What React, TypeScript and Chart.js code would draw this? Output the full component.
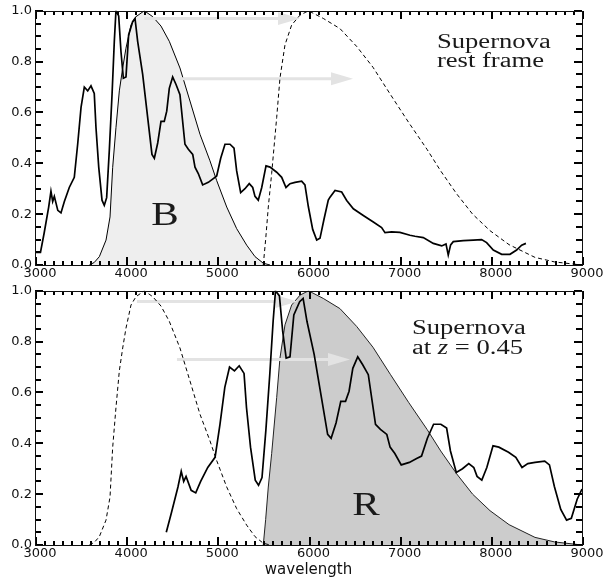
import { useEffect, useRef } from "react";
import { Chart, registerables } from "chart.js";

Chart.register(...registerables);

// ---------- data ----------
// Supernova spectrum, rest frame (wavelength in Å, normalised flux)
const restWave = [
  3000, 3060, 3100, 3150, 3175, 3194, 3212, 3250, 3285, 3322, 3376, 3431, 3468, 3505, 3541, 3578,
  3614, 3650, 3669, 3699, 3735, 3760, 3786, 3815, 3845, 3870, 3888, 3918, 3943, 3969, 3998, 4027,
  4071, 4097, 4126, 4181, 4236, 4283, 4309, 4346, 4382, 4418, 4445, 4473, 4510, 4547, 4590, 4645,
  4682, 4730, 4755, 4791, 4839, 4901, 4956, 4993, 5037, 5084, 5139, 5183, 5212, 5256, 5303, 5350,
  5388, 5413, 5449, 5487, 5534, 5578, 5651, 5706, 5753, 5797, 5852, 5925, 5961, 5998, 6046, 6090,
  6126, 6170, 6217, 6236, 6291, 6364, 6419, 6492, 6601, 6711, 6802, 6839, 6912, 7003, 7113, 7168,
  7259, 7369, 7461, 7508, 7533, 7559, 7588, 7698, 7808, 7899, 7954, 8027, 8119, 8210, 8283, 8338,
  8385,
];
const restFlux = [
  0.05, 0.05, 0.125, 0.228, 0.29, 0.25, 0.27, 0.215, 0.205, 0.25, 0.305, 0.345, 0.475, 0.62, 0.7, 0.685,
  0.705, 0.675, 0.54, 0.385, 0.255, 0.235, 0.265, 0.45, 0.67, 0.88, 1.0, 0.98, 0.84, 0.735, 0.74, 0.905,
  0.957, 0.97, 0.88, 0.75, 0.58, 0.435, 0.42, 0.48, 0.565, 0.565, 0.605, 0.695, 0.74, 0.71, 0.67, 0.475,
  0.455, 0.435, 0.385, 0.36, 0.315, 0.325, 0.34, 0.35, 0.42, 0.475, 0.475, 0.46, 0.37, 0.285, 0.3, 0.32,
  0.305, 0.27, 0.255, 0.305, 0.39, 0.385, 0.365, 0.345, 0.305, 0.32, 0.325, 0.33, 0.315, 0.23, 0.14, 0.098,
  0.105, 0.18, 0.255, 0.267, 0.293, 0.287, 0.254, 0.221, 0.195, 0.169, 0.147, 0.127, 0.13, 0.128, 0.117, 0.113,
  0.108, 0.085, 0.075, 0.083, 0.039, 0.079, 0.092, 0.096, 0.098, 0.1, 0.088, 0.059, 0.042, 0.042, 0.059, 0.078,
  0.085,
];

// Same supernova observed at z = 0.45
const shiftedWave = [
  4440, 4495, 4568, 4604, 4631, 4657, 4713, 4763, 4817, 4895, 4975, 5029, 5082, 5134, 5188, 5240,
  5293, 5320, 5364, 5416, 5452, 5490, 5532, 5575, 5612, 5638, 5681, 5717, 5755, 5797, 5839, 5903,
  5941, 5983, 6062, 6142, 6210, 6248, 6302, 6354, 6406, 6445, 6486, 6540, 6593, 6656, 6735, 6789,
  6859, 6895, 6947, 7017, 7106, 7186, 7240, 7304, 7372, 7452, 7515, 7557, 7621, 7689, 7758, 7813,
  7849, 7901, 7956, 8024, 8088, 8194, 8274, 8342, 8406, 8485, 8591, 8643, 8697, 8767, 8831, 8883,
  8947, 9000,
];
const shiftedFlux = [
  0.05, 0.125, 0.228, 0.29, 0.25, 0.27, 0.215, 0.205, 0.25, 0.305, 0.345, 0.475, 0.62, 0.7, 0.685, 0.705,
  0.675, 0.54, 0.385, 0.255, 0.235, 0.265, 0.45, 0.67, 0.88, 1.0, 0.98, 0.84, 0.735, 0.74, 0.905, 0.957,
  0.97, 0.88, 0.75, 0.58, 0.435, 0.42, 0.48, 0.565, 0.565, 0.605, 0.695, 0.74, 0.71, 0.67, 0.475, 0.455,
  0.435, 0.385, 0.36, 0.315, 0.325, 0.34, 0.35, 0.42, 0.475, 0.475, 0.46, 0.37, 0.285, 0.3, 0.32, 0.305,
  0.27, 0.255, 0.305, 0.39, 0.385, 0.365, 0.345, 0.305, 0.32, 0.325, 0.33, 0.315, 0.23, 0.14, 0.098, 0.105,
  0.18, 0.22,
];

// B filter transmission
const filterBWave = [
  3596, 3650, 3706, 3779, 3823, 3852, 3888, 3925, 3962, 3998, 4053, 4108, 4199, 4291, 4382, 4473,
  4590, 4700, 4810, 4919, 4993, 5103, 5212, 5322, 5413, 5504, 5578,
];
const filterBResp = [
  0, 0.01, 0.033, 0.098, 0.189, 0.384, 0.54, 0.685, 0.775, 0.853, 0.944, 0.977, 1.0, 0.977, 0.94, 0.88,
  0.775, 0.645, 0.514, 0.41, 0.332, 0.228, 0.143, 0.078, 0.033, 0.007, 0,
];

// R filter transmission
const filterRWave = [
  5504, 5530, 5559, 5596, 5651, 5687, 5742, 5815, 5907, 6000, 6162, 6345, 6528, 6707, 6900, 7100,
  7300, 7450, 7625, 7800, 7991, 8200, 8484, 8700, 9000,
];
const filterRResp = [
  0, 0.1, 0.228, 0.36, 0.58, 0.735, 0.866, 0.944, 0.983, 1.0, 0.97, 0.93, 0.86, 0.778, 0.67, 0.56,
  0.455, 0.37, 0.28, 0.2, 0.135, 0.08, 0.03, 0.012, 0,
];

// grey shift arrows: start wavelength, tip wavelength, level
const arrowStartTop = [4200, 4590];
const arrowEndTop = [5907, 6488];
const arrowLevelTop = [0.97, 0.733];
const arrowStartBottom = [4118, 4557];
const arrowEndBottom = [5880, 6455];
const arrowLevelBottom = [0.958, 0.73];

// axis tick values (major labelled, minor unlabelled)
const xMajorTicks = [3000, 4000, 5000, 6000, 7000, 8000, 9000];
const xMinorTicks = [
  3100, 3200, 3300, 3400, 3500, 3600, 3700, 3800, 3900,
  4100, 4200, 4300, 4400, 4500, 4600, 4700, 4800, 4900,
  5100, 5200, 5300, 5400, 5500, 5600, 5700, 5800, 5900,
  6100, 6200, 6300, 6400, 6500, 6600, 6700, 6800, 6900,
  7100, 7200, 7300, 7400, 7500, 7600, 7700, 7800, 7900,
  8100, 8200, 8300, 8400, 8500, 8600, 8700, 8800, 8900,
];
const yMajorTicks = [0, 0.2, 0.4, 0.6, 0.8, 1.0];
const yMinorTicks = [0.05, 0.1, 0.15, 0.25, 0.3, 0.35, 0.45, 0.5, 0.55, 0.65, 0.7, 0.75, 0.85, 0.9, 0.95];

const pts = (xs: number[], ys: number[]) => xs.map((x, i) => ({ x, y: ys[i] }));

type Label = { text: string; italic?: boolean }[];
type Annot = { parts: Label; x: number; y: number; size: number; sx: number; align: "left" | "center" };

function drawAnnot(ctx: CanvasRenderingContext2D, a: Annot, px: number, py: number) {
  ctx.save();
  ctx.fillStyle = "#1a1a1a";
  ctx.textBaseline = "alphabetic";
  ctx.textAlign = "left";
  let total = 0;
  const widths = a.parts.map((p) => {
    ctx.font = `${p.italic ? "italic " : ""}${a.size}px "Liberation Serif", "Times New Roman", serif`;
    const w = ctx.measureText(p.text).width;
    total += w;
    return w;
  });
  ctx.translate(px, py);
  ctx.scale(a.sx, 1);
  let cx = a.align === "center" ? -total / 2 : 0;
  a.parts.forEach((p, i) => {
    ctx.font = `${p.italic ? "italic " : ""}${a.size}px "Liberation Serif", "Times New Roman", serif`;
    ctx.fillText(p.text, cx, 0);
    cx += widths[i];
  });
  ctx.restore();
}

function makePlugin(annots: Annot[], fillIndex: number, aStart: number[], aEnd: number[], aLevel: number[]) {
  return {
    id: "decor",
    afterDatasetDraw(chart: any, args: any) {
      if (args.index !== fillIndex) return;
      const { ctx } = chart;
      const xs = chart.scales.x;
      const ys = chart.scales.y;
      ctx.save();
      const color = "#e3e3e3";
      aStart.forEach((s, i) => {
        const x0 = xs.getPixelForValue(s);
        const x1 = xs.getPixelForValue(aEnd[i]);
        const y = ys.getPixelForValue(aLevel[i]);
        const head = 22;
        const half = 6.5;
        ctx.strokeStyle = color;
        ctx.lineWidth = 3;
        ctx.beginPath();
        ctx.moveTo(x0, y);
        ctx.lineTo(x1 - head + 1, y);
        ctx.stroke();
        ctx.fillStyle = color;
        ctx.beginPath();
        ctx.moveTo(x1, y);
        ctx.lineTo(x1 - head, y - half);
        ctx.lineTo(x1 - head, y + half);
        ctx.closePath();
        ctx.fill();
      });
      ctx.restore();
    },
    afterDraw(chart: any) {
      const ctx: CanvasRenderingContext2D = chart.ctx;
      const area = chart.chartArea;
      const L = Math.round(area.left);
      const R = Math.round(area.right);
      const T = Math.round(area.top);
      const B = Math.round(area.bottom);
      const xs = chart.scales.x;
      const ys = chart.scales.y;
      ctx.save();
      ctx.fillStyle = "#000";
      const xTick = (v: number, len: number) => {
        const px = Math.round(xs.getPixelForValue(v));
        ctx.fillRect(px, B - len, 2, len);
        ctx.fillRect(px, T, 2, len);
      };
      const yTick = (v: number, len: number) => {
        const py = Math.round(ys.getPixelForValue(v));
        ctx.fillRect(L, py - 1, len, 2);
        ctx.fillRect(R - len, py - 1, len, 2);
      };
      xMajorTicks.forEach((v) => xTick(v, 8));
      xMinorTicks.forEach((v) => xTick(v, 4));
      yMajorTicks.forEach((v) => yTick(v, 8));
      yMinorTicks.forEach((v) => yTick(v, 6));
      ctx.fillStyle = "#111";
      ctx.fillRect(L, T, R - L + 1, 1);
      ctx.fillRect(L, B, R - L + 1, 1);
      ctx.fillRect(L, T, 1, B - T + 1);
      ctx.fillRect(R, T, 1, B - T + 1);
      ctx.restore();
      annots.forEach((a) => drawAnnot(ctx, a, xs.getPixelForValue(a.x), ys.getPixelForValue(a.y)));
    },
  };
}

const tickFont = { family: '"DejaVu Sans", sans-serif', size: 13 };

function makeOptions(padTop: number, xHeight: number, showTitle: boolean) {
  return {
    responsive: false,
    maintainAspectRatio: false,
    animation: false as const,
    devicePixelRatio: 1,
    events: [] as any[],
    layout: { padding: { top: padTop, right: 22, left: 0, bottom: 0 } },
    plugins: { legend: { display: false }, tooltip: { enabled: false }, title: { display: false } },
    elements: { point: { radius: 0 }, line: { tension: 0 } },
    scales: {
      x: {
        type: "linear" as const,
        min: xMajorTicks[0],
        max: xMajorTicks[xMajorTicks.length - 1],
        grid: { display: false, drawTicks: false, tickLength: 0 },
        border: { display: false },
        afterBuildTicks: (s: any) => {
          s.ticks = xMajorTicks.map((value) => ({ value }));
        },
        ticks: {
          autoSkip: false,
          maxRotation: 0,
          padding: 1,
          labelOffset: 5,
          color: "#111",
          font: tickFont,
          callback: (v: any) => String(v),
        },
        title: {
          display: showTitle,
          text: "wavelength",
          color: "#111",
          font: { family: '"DejaVu Sans", sans-serif', size: 15 },
          padding: { top: 0, bottom: 1 },
        },
        afterFit: (s: any) => {
          s.height = xHeight;
        },
      },
      y: {
        type: "linear" as const,
        min: yMajorTicks[0],
        max: yMajorTicks[yMajorTicks.length - 1],
        grid: { display: false, drawTicks: false, tickLength: 0 },
        border: { display: false },
        afterBuildTicks: (s: any) => {
          s.ticks = yMajorTicks.map((value) => ({ value }));
        },
        ticks: {
          padding: 3,
          color: "#111",
          font: tickFont,
          callback: (v: any) => Number(v).toFixed(1),
        },
        afterFit: (s: any) => {
          s.width = 35;
        },
      },
    },
  };
}

const topAnnots: Annot[] = [
  { parts: [{ text: "Supernova" }], x: 7409, y: 0.853, size: 20, sx: 1.33, align: "left" },
  { parts: [{ text: "rest frame" }], x: 7409, y: 0.778, size: 20, sx: 1.33, align: "left" },
  { parts: [{ text: "B" }], x: 4426, y: 0.156, size: 33, sx: 1.25, align: "center" },
];
const bottomAnnots: Annot[] = [
  { parts: [{ text: "Supernova" }], x: 7135, y: 0.831, size: 20, sx: 1.33, align: "left" },
  {
    parts: [{ text: "at " }, { text: "z", italic: true }, { text: " = 0.45" }],
    x: 7135,
    y: 0.753,
    size: 20,
    sx: 1.33,
    align: "left",
  },
  { parts: [{ text: "R" }], x: 6631, y: 0.118, size: 33, sx: 1.25, align: "center" },
];

export default function App() {
  const topRef = useRef<HTMLCanvasElement>(null);
  const botRef = useRef<HTMLCanvasElement>(null);

  useEffect(() => {
    const top = new Chart(topRef.current as HTMLCanvasElement, {
      type: "line",
      data: {
        datasets: [
          { data: pts(restWave, restFlux), borderColor: "#000", borderWidth: 1.7, fill: false, order: 1, pointRadius: 0 },
          {
            data: pts(filterRWave, filterRResp),
            borderColor: "#000",
            borderWidth: 1,
            borderDash: [4, 3],
            fill: false,
            order: 2,
            pointRadius: 0,
          },
          {
            data: pts(filterBWave, filterBResp),
            borderColor: "#000",
            borderWidth: 1,
            backgroundColor: "#eeeeee",
            fill: "origin",
            order: 3,
            pointRadius: 0,
          },
        ],
      },
      options: makeOptions(9, 15, false) as any,
      plugins: [makePlugin(topAnnots, 2, arrowStartTop, arrowEndTop, arrowLevelTop)],
    });
    const bottom = new Chart(botRef.current as HTMLCanvasElement, {
      type: "line",
      data: {
        datasets: [
          { data: pts(shiftedWave, shiftedFlux), borderColor: "#000", borderWidth: 1.7, fill: false, order: 1, pointRadius: 0 },
          {
            data: pts(filterBWave, filterBResp),
            borderColor: "#000",
            borderWidth: 1,
            borderDash: [4, 3],
            fill: false,
            order: 2,
            pointRadius: 0,
          },
          {
            data: pts(filterRWave, filterRResp),
            borderColor: "#222",
            borderWidth: 1,
            backgroundColor: "#cccccc",
            fill: "origin",
            order: 3,
            pointRadius: 0,
          },
        ],
      },
      options: makeOptions(10, 35, true) as any,
      plugins: [makePlugin(bottomAnnots, 2, arrowStartBottom, arrowEndBottom, arrowLevelBottom)],
    });
    return () => {
      top.destroy();
      bottom.destroy();
    };
  }, []);

  return (
    <div style={{ position: "absolute", left: 0, top: 0, width: 604, height: 580, background: "#fff" }}>
      <canvas ref={topRef} width={604} height={280} style={{ position: "absolute", left: 0, top: 0 }} />
      <canvas ref={botRef} width={604} height={300} style={{ position: "absolute", left: 0, top: 280 }} />
    </div>
  );
}
